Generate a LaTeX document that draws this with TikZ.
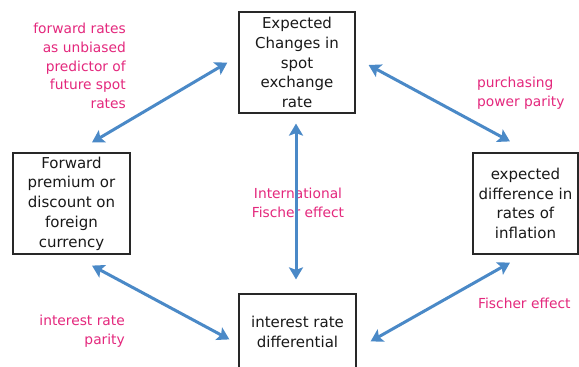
\documentclass[tikz,border=0pt]{standalone}
\usepackage{fontspec}
\setmainfont{DejaVu Sans}
\usetikzlibrary{arrows.meta}
\definecolor{arrowblue}{RGB}{74,137,199}
\definecolor{labelpink}{RGB}{228,40,125}
\definecolor{boxline}{RGB}{40,40,40}
\begin{document}
\begin{tikzpicture}[x=1pt,y=-1pt,
  box/.style={draw=boxline, line width=1.2pt, inner sep=0pt, align=center,
    font=\fontsize{15}{19.8}\selectfont, text=black!90},
  boxtext/.style={align=center, font=\fontsize{15}{19.8}\selectfont, text=black!90, inner sep=0pt},
  lbl/.style={text=labelpink, font=\fontsize{13.8}{18.7}\selectfont, inner sep=0pt},
  link/.style={arrowblue, line width=3pt,
    {Stealth[length=12pt,width=14pt,inset=2.5pt]}-{Stealth[length=12pt,width=14pt,inset=2.5pt]}}
]
\useasboundingbox[fill=white] (0,0) rectangle (579,367);

% boxes
\node[box, minimum width=116pt, minimum height=101pt] (top) at (297,62.5)
  {Expected\\Changes in\\spot\\exchange\\rate};
\node[box, minimum width=117pt, minimum height=101pt] (left) at (71.5,203.5)
  {Forward\\premium or\\discount on\\foreign\\currency};
\node[box, minimum width=105pt, minimum height=101pt] (right) at (525.5,203.5)
  {expected\\difference in\\rates of\\inflation};
\node[box, minimum width=117pt, minimum height=110pt] (bot) at (297.5,349) {};
\node[boxtext] (bottxt) at (297.5,332) {interest rate\\differential};

% labels
\node[lbl, align=right, anchor=east] (l1) at (126,66)
  {forward rates\\as unbiased\\predictor of\\future spot\\rates};
\node[lbl, align=left, anchor=west] (l2) at (477,93.5)
  {purchasing\\power parity};
\node[lbl, align=center] (l3) at (298,203)
  {International\\Fischer effect};
\node[lbl, align=right, anchor=east] (l4) at (125,331.5)
  {interest rate\\parity};
\node[lbl, align=left, anchor=west] (l5) at (478,303)
  {Fischer effect};

% arrow end points
\coordinate (a1s) at ([shift={(20.5,-10)}]left.north);
\coordinate (a1e) at ([shift={(-11,0)}]top.west);
\coordinate (a2s) at ([shift={(13,2.5)}]top.east);
\coordinate (a2e) at ([shift={(-15.5,-11)}]right.north);
\coordinate (a3s) at ([shift={(-1,10)}]top.south);
\coordinate (a3e) at ([shift={(-1.5,-14)}]bot.north);
\coordinate (a4s) at ([shift={(20.5,11)}]left.south);
\coordinate (a4e) at ([shift={(-9,46)}]bot.north west);
\coordinate (a5s) at ([shift={(14,48)}]bot.north east);
\coordinate (a5e) at ([shift={(-15.5,8)}]right.south);

% arrows
\draw[link] (a1s) -- (a1e);
\draw[link] (a2s) -- (a2e);
\draw[link] (a3s) -- (a3e);
\draw[link] (a4s) -- (a4e);
\draw[link] (a5s) -- (a5e);
\end{tikzpicture}
\end{document}
